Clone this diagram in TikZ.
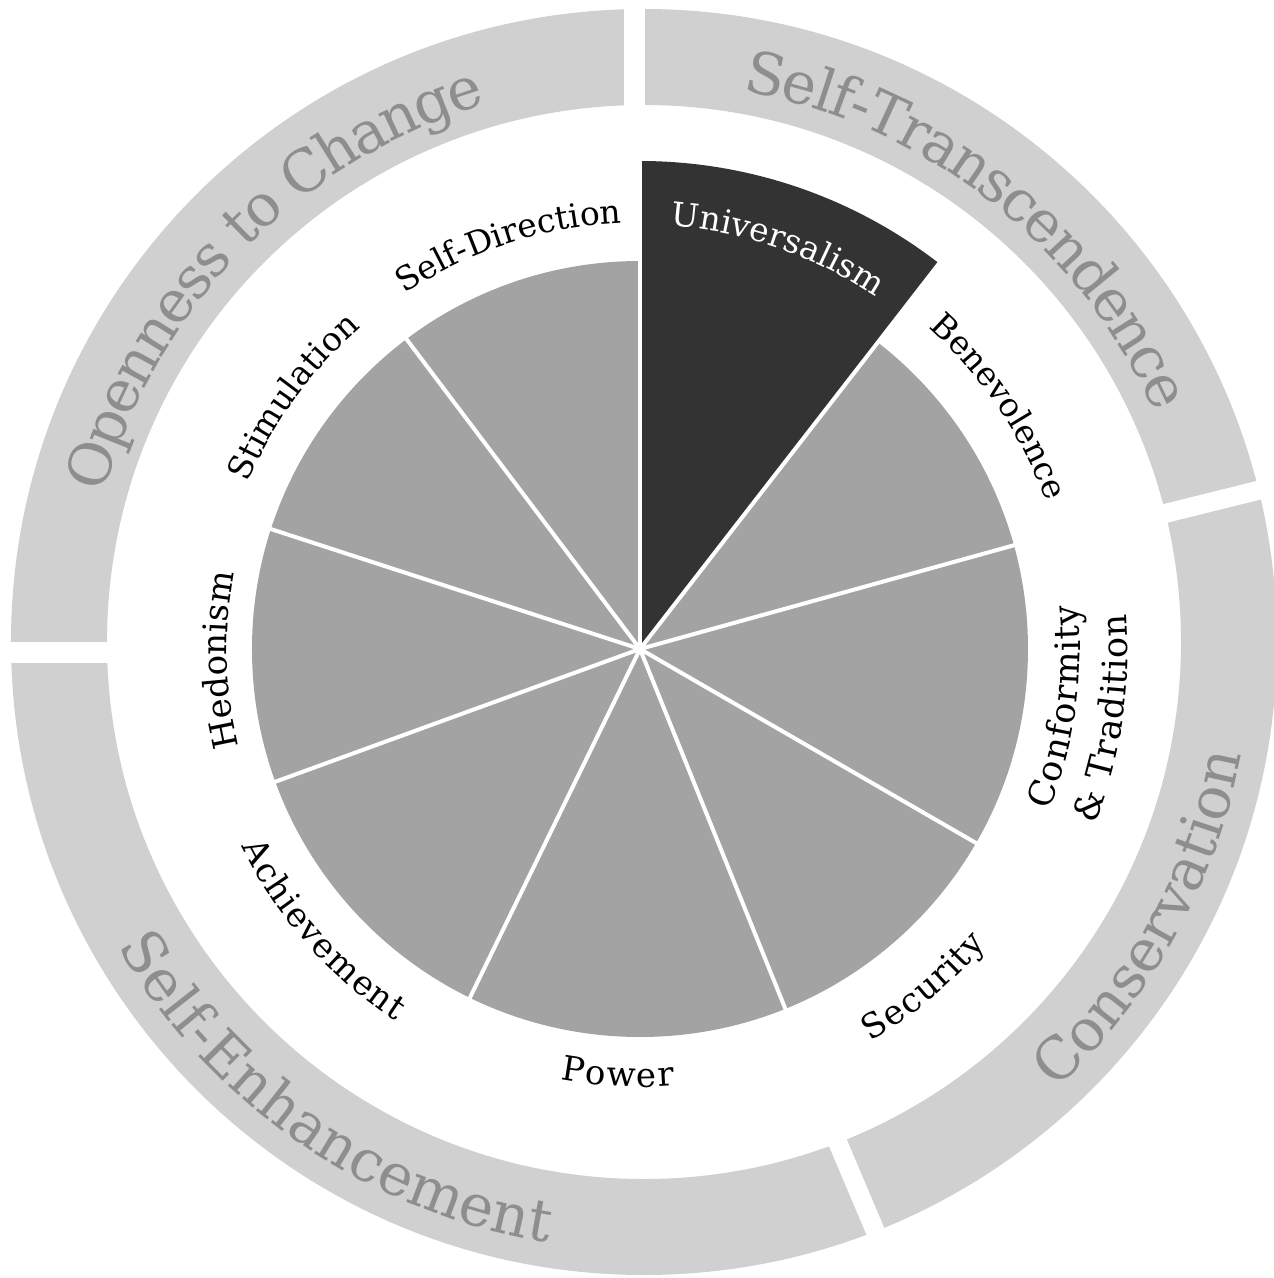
\documentclass[tikz,border=0pt]{standalone}
\usepackage{fontspec}
\setmainfont{DejaVu Serif}
\usepackage{tikz}
\usetikzlibrary{decorations.text}
\definecolor{ringgray}{HTML}{D0D0D0}
\definecolor{ringtext}{HTML}{8E8E8E}
\definecolor{piegray}{HTML}{A3A3A3}
\definecolor{unidark}{HTML}{333333}
\tikzstyle{ring}=[fill=ringgray, even odd rule]
\tikzstyle{gap}=[draw=white, line width=21pt]
\tikzstyle{spoke}=[draw=white, line width=4pt]
\tikzstyle{bent}=[decorate, decoration={text along path, text align=center}]
\newcommand{\ringfont}{\fontsize{58}{60}\selectfont\color{ringtext}}
\newcommand{\piefont}{\fontsize{33}{36}\selectfont}
\newcommand{\piefontb}{\fontsize{34}{36}\selectfont}
\newcommand{\piefontc}{\fontsize{35}{36}\selectfont}
\pgfdeclarelayer{ringlayer}
\pgfdeclarelayer{pielayer}
\pgfsetlayers{ringlayer,pielayer,main}

\begin{document}
\begin{tikzpicture}[x=1pt, y=1pt]
    \useasboundingbox (-640,-629) rectangle (634,649);
    \coordinate (pc) at (0,0);
    \coordinate (rc) at (4,7);
    \begin{pgfonlayer}{ringlayer}
        \path[ring] (rc) circle[radius=633] (rc) circle[radius=537];
        \draw[gap] (-5.5,480) -- (-5.5,660);
        \draw[gap] (-480,-3.5) -- (-660,-3.5);
        \draw[gap, line width=19pt] (481,124.6) -- (660,169);
        \draw[gap, line width=19pt] (184,-461) -- (267,-657);
    \end{pgfonlayer}
    \begin{pgfonlayer}{pielayer}
        \fill[piegray] (pc) circle[radius=388];
        \fill[unidark] (pc) -- (90:488) arc[start angle=90, end angle=52.2, radius=488] -- cycle;
        \foreach \a in {90,52.2}
            \draw[spoke] (pc) -- (\a:492);
        \foreach \a in {15.5,-30,-68,-116,-160,-198,-233}
            \draw[spoke] (pc) -- (\a:392);
    \end{pgfonlayer}
    % ring labels
    \path[bent, decoration={raise=-40pt, text={|\ringfont|Openness to Change}}]
        (rc) ++(175:600) arc[start angle=175, end angle=96, radius=600];
    \path[bent, decoration={raise=-40pt, text={|\ringfont|Self-Transcendence}}]
        (rc) ++(92:600) arc[start angle=92, end angle=12, radius=600];
    \path[bent, decoration={text={|\ringfont|Conservation}}]
        (rc) ++(-55:608) arc[start angle=-55, end angle=-3, radius=608];
    \path[bent, decoration={text={|\ringfont|Self-Enhancement}}]
        (rc) ++(195:608) arc[start angle=195, end angle=276, radius=608];
    % value labels
    \path[bent, decoration={text={|\piefont|Self-Direction}}]
        (pc) ++(140:426) arc[start angle=140, end angle=76, radius=426];
    \path[bent, decoration={text={|\piefont\color{white}|Universalism}}]
        (pc) ++(95:424) arc[start angle=95, end angle=47, radius=424];
    \path[bent, decoration={text={|\piefont|Benevolence}}]
        (pc) ++(64:432) arc[start angle=64, end angle=4, radius=432];
    \path[bent, decoration={raise=-25pt, text={|\piefontc|Conformity}}]
        (pc) ++(-37.9:415) arc[start angle=-37.9, end angle=22.1, radius=415];
    \path[bent, decoration={raise=-25pt, text={|\piefontc|{\&} Tradition}}]
        (pc) ++(-38.5:463) arc[start angle=-38.5, end angle=21.5, radius=463];
    \path[bent, decoration={raise=-25pt, text={|\piefontb|Security}}]
        (pc) ++(-80:430) arc[start angle=-80, end angle=-20, radius=430];
    \path[bent, decoration={raise=-25pt, text={|\piefontb|Power}}]
        (pc) ++(237:413) arc[start angle=237, end angle=297, radius=413];
    \path[bent, decoration={raise=-25pt, text={|\piefontb|Achievement}}]
        (pc) ++(191.5:420) arc[start angle=191.5, end angle=251.5, radius=420];
    \path[bent, decoration={text={|\piefontb|Hedonism}}]
        (pc) ++(211.5:413) arc[start angle=211.5, end angle=151.5, radius=413];
    \path[bent, decoration={text={|\piefont|Stimulation}}]
        (pc) ++(174:426) arc[start angle=174, end angle=114, radius=426];
\end{tikzpicture}
\end{document}
